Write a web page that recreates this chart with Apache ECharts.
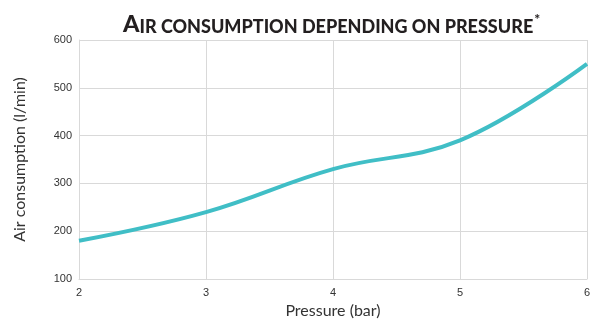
<!DOCTYPE html>
<html>
<head>
<meta charset="utf-8">
<style>html,body{margin:0;padding:0;background:#fff;}#c{width:591px;height:320px;}</style>
<script src="https://cdn.jsdelivr.net/npm/echarts@6/dist/echarts.min.js"></script>
</head>
<body>
<div id="c"></div>
<script>
const pressure = [2, 3, 4, 5, 6];
const consumption = [180, 240, 330, 390, 550];
const xTicks = [2, 3, 4, 5, 6];
const yTicks = [100, 200, 300, 400, 500, 600];

const chart = echarts.init(document.getElementById('c'), null, {renderer: 'canvas'});
chart.setOption({
  animation: false,
  backgroundColor: '#fff',
  title: {
    text: '{big|A}{small|IR CONSUMPTION DEPENDING ON PRESSURE}{sup|*}',
    left: 118,
    top: 7,
    textStyle: {
      rich: {
        big: {fontFamily: 'Lato', fontWeight: 900, fontSize: 23.5, color: '#231f20', verticalAlign: 'bottom'},
        small: {fontFamily: 'Lato', fontWeight: 900, fontSize: 18, color: '#231f20', verticalAlign: 'bottom'},
        sup: {fontFamily: 'Lato', fontWeight: 900, fontSize: 14, color: '#231f20', verticalAlign: 'top', padding: [0,0,10,1]}
      }
    }
  },
  grid: {left: 79, right: 4, top: 40, bottom: 41, outerBoundsMode: 'none', containLabel: false},
  xAxis: {
    type: 'value', min: xTicks[0], max: xTicks[xTicks.length-1], interval: 1,
    name: 'Pressure (bar)', nameLocation: 'middle', nameGap: 23,
    nameTextStyle: {fontFamily: 'Lato', fontSize: 16, color: '#333'},
    axisLine: {show: true, lineStyle: {color: '#d9d9d9', width: 1}},
    axisTick: {show: false},
    axisLabel: {fontFamily: 'Liberation Sans', fontSize: 11, color: '#333', margin: 8},
    splitLine: {show: true, lineStyle: {color: '#d9d9d9', width: 1}}
  },
  yAxis: {
    type: 'value', min: yTicks[0], max: yTicks[yTicks.length-1], interval: 100,
    name: 'Air consumption (l/min)', nameLocation: 'middle', nameGap: 51,
    nameTextStyle: {fontFamily: 'Lato', fontSize: 16, color: '#333'},
    axisLine: {show: true, lineStyle: {color: '#d9d9d9', width: 1}},
    axisTick: {show: false},
    axisLabel: {fontFamily: 'Liberation Sans', fontSize: 11, color: '#333', margin: 7},
    splitLine: {show: true, lineStyle: {color: '#d9d9d9', width: 1}}
  },
  series: [{
    type: 'line',
    data: pressure.map((p, i) => [p, consumption[i]]),
    smooth: 0.4,
    symbol: 'none',
    lineStyle: {color: '#40bec6', width: 4},
    clip: false
  }]
});
</script>
</body>
</html>
